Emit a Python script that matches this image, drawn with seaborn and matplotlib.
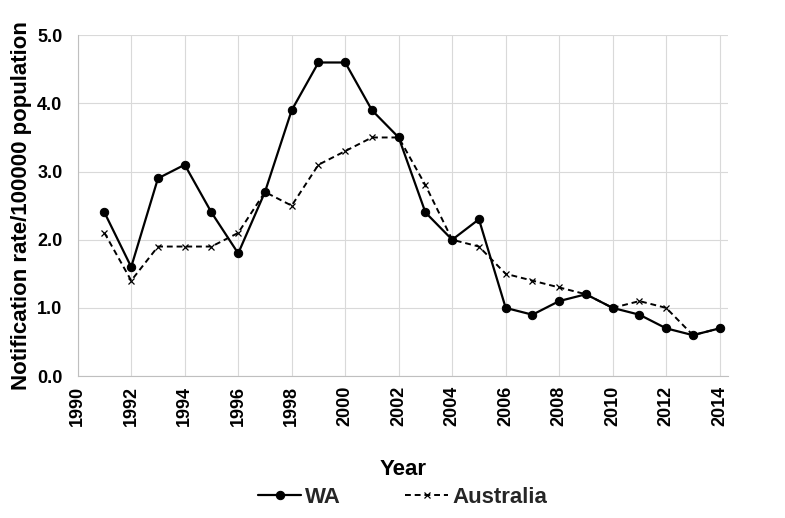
import matplotlib
matplotlib.use("Agg")
import matplotlib.pyplot as plt
import seaborn as sns

# Notification rates per 100000 population
years = list(range(1991, 2015))
wa = [2.4, 1.6, 2.9, 3.1, 2.4, 1.8, 2.7, 3.9, 4.6, 4.6, 3.9, 3.5,
      2.4, 2.0, 2.3, 1.0, 0.9, 1.1, 1.2, 1.0, 0.9, 0.7, 0.6, 0.7]
australia = [2.1, 1.4, 1.9, 1.9, 1.9, 2.1, 2.7, 2.5, 3.1, 3.3, 3.5, 3.5,
             2.8, 2.0, 1.9, 1.5, 1.4, 1.3, 1.2, 1.0, 1.1, 1.0, 0.6, 0.7]
x_ticks = list(range(1990, 2015, 2))
y_ticks = [0.0, 1.0, 2.0, 3.0, 4.0, 5.0]

sns.set_style("white")
plt.rcParams["font.family"] = ["Liberation Sans", "DejaVu Sans"]
plt.rcParams["font.weight"] = "bold"

fig = plt.figure(figsize=(7.85, 5.18), dpi=100)
ax = fig.add_axes([0.099, 0.274, 0.828, 0.658])

# WA: solid line with filled circles
sns.lineplot(x=years, y=wa, color="black", linewidth=1.6, marker="o",
             markersize=6, markeredgecolor="black", label="WA", ax=ax)
# Australia: dashed line with x markers
sns.lineplot(x=years, y=australia, color="black", linewidth=1.4, linestyle=(0, (3, 2)),
             marker="x", markersize=5, markeredgewidth=0.9, markeredgecolor="black",
             label="Australia", ax=ax)

ax.set_xlim(1990, 2014.3)
ax.set_ylim(0, 5.0)
ax.set_xticks(x_ticks)
ax.set_yticks(y_ticks)
ax.set_yticklabels([f"{v:.1f}" for v in y_ticks], fontsize=13, fontweight="bold")
ax.set_xticklabels([str(v) for v in x_ticks], rotation=90, fontsize=13, fontweight="bold")
ax.tick_params(length=0, colors="black")
ax.tick_params(axis="y", pad=11)
ax.tick_params(axis="x", pad=7)
ax.grid(True, color="#d9d9d9", linewidth=0.8)
ax.set_axisbelow(True)
for side in ["top", "right"]:
    ax.spines[side].set_visible(False)
for side in ["left", "bottom"]:
    ax.spines[side].set_color("#bfbfbf")
    ax.spines[side].set_linewidth(0.8)

ax.set_xlabel("Year", fontsize=16, fontweight="bold", labelpad=24, color="black")
ax.set_ylabel("Notification rate/100000 population", fontsize=16, fontweight="bold",
              labelpad=4, color="black")

ax.legend(loc="center", bbox_to_anchor=(0.5, -0.355),
          ncol=2, frameon=False, fontsize=16, handlelength=1.9,
          columnspacing=2.9, handletextpad=0.2)
for t in ax.get_legend().get_texts():
    t.set_fontweight("bold")

fig.savefig("out.png", dpi=100)
